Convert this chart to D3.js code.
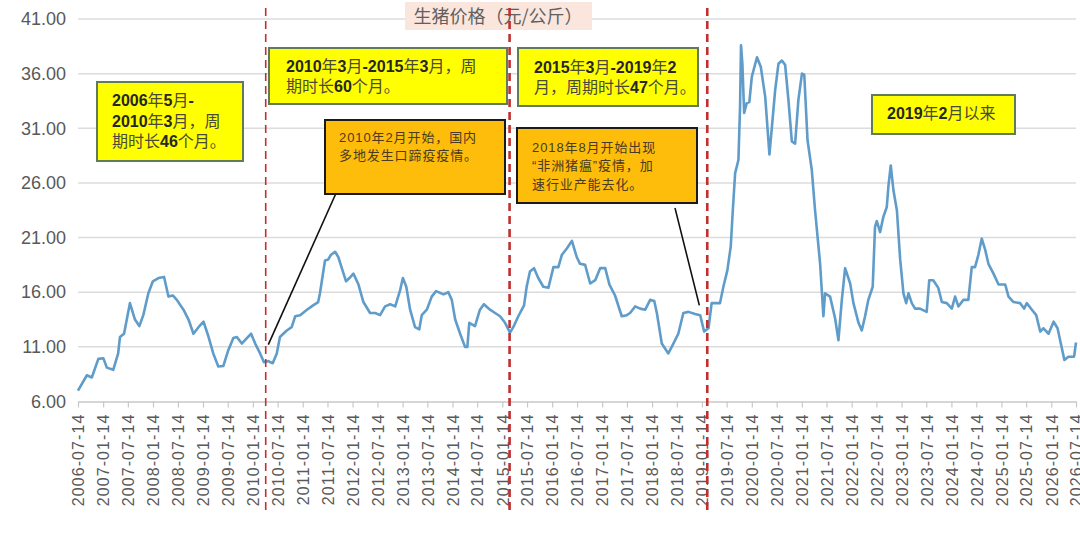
<!DOCTYPE html>
<html lang="zh">
<head>
<meta charset="utf-8">
<title>生猪价格（元/公斤）</title>
<script src="https://d3js.org/d3.v7.min.js"></script>
<style>
  body { margin: 0; background: #fff; }
  svg { display: block; }
</style>
</head>
<body>
<div id="chart"></div>
<script>
// weekly-ish pig price readings (元/公斤)
const dates = [
  "2006-07-14","2006-09-17","2006-10-23","2006-12-10","2007-01-16","2007-02-10","2007-03-29","2007-05-04",
  "2007-05-17","2007-06-16","2007-07-29","2007-09-04","2007-10-06","2007-11-04","2007-12-11","2008-01-13",
  "2008-02-23","2008-04-04","2008-05-06","2008-06-07","2008-07-06","2008-08-24","2008-09-30","2008-11-05",
  "2008-12-12","2009-01-18","2009-02-24","2009-03-30","2009-05-06","2009-06-12","2009-07-18","2009-08-24",
  "2009-09-19","2009-10-25","2009-12-01","2010-01-01","2010-01-31","2010-03-08","2010-04-05","2010-05-07",
  "2010-06-08","2010-07-08","2010-07-31","2010-09-19","2010-10-25","2010-11-20","2010-12-26","2011-02-14",
  "2011-03-31","2011-05-07","2011-05-20","2011-06-26","2011-07-20","2011-08-07","2011-09-08","2011-10-02",
  "2011-10-27","2011-11-27","2011-12-22","2012-01-20","2012-02-26","2012-04-02","2012-05-21","2012-06-27",
  "2012-08-02","2012-09-08","2012-10-15","2012-11-21","2012-12-27","2013-01-16","2013-02-10","2013-03-10",
  "2013-04-15","2013-05-16","2013-06-03","2013-07-10","2013-08-15","2013-09-16","2013-11-09","2013-12-15",
  "2014-01-09","2014-02-03","2014-03-11","2014-04-16","2014-05-03","2014-05-17","2014-06-28","2014-08-03",
  "2014-09-01","2014-10-16","2014-11-22","2014-12-28","2015-02-03","2015-03-11","2015-04-04","2015-05-11",
  "2015-06-22","2015-07-11","2015-08-04","2015-09-03","2015-10-04","2015-11-10","2015-12-17","2016-01-23",
  "2016-02-28","2016-03-24","2016-04-30","2016-06-06","2016-07-12","2016-08-05","2016-09-11","2016-10-18",
  "2016-11-24","2016-12-30","2017-02-05","2017-03-08","2017-04-18","2017-06-06","2017-07-13","2017-08-06",
  "2017-09-12","2017-10-19","2017-11-25","2017-12-31","2018-01-30","2018-02-18","2018-03-26","2018-05-13",
  "2018-06-19","2018-07-25","2018-08-31","2018-10-07","2018-11-25","2019-01-01","2019-01-30","2019-03-03",
  "2019-03-26","2019-05-26","2019-06-20","2019-07-19","2019-08-13","2019-08-28","2019-09-14","2019-10-08",
  "2019-10-20","2019-10-27","2019-11-06","2019-11-19","2019-12-08","2019-12-27","2020-01-14","2020-02-21",
  "2020-03-20","2020-04-21","2020-05-22","2020-06-09","2020-07-03","2020-07-27","2020-08-21","2020-09-14",
  "2020-10-08","2020-11-02","2020-11-26","2020-12-20","2021-01-15","2021-02-01","2021-02-25","2021-03-28",
  "2021-04-21","2021-05-28","2021-06-21","2021-07-03","2021-08-09","2021-09-15","2021-10-09","2021-11-03",
  "2021-11-27","2022-01-03","2022-01-27","2022-03-05","2022-03-29","2022-04-22","2022-05-16","2022-06-17",
  "2022-07-04","2022-07-17","2022-08-10","2022-09-03","2022-09-28","2022-10-10","2022-10-27","2022-11-16",
  "2022-12-11","2023-01-04","2023-01-28","2023-02-17","2023-03-06","2023-03-30","2023-04-23","2023-05-29",
  "2023-07-17","2023-08-05","2023-09-03","2023-10-10","2023-11-05","2023-12-11","2024-01-17","2024-02-10",
  "2024-03-05","2024-04-11","2024-05-17","2024-06-11","2024-07-05","2024-07-29","2024-08-23","2024-09-17",
  "2024-10-11","2024-11-17","2024-12-24","2025-02-11","2025-03-07","2025-04-13","2025-05-31","2025-06-29",
  "2025-07-19","2025-08-25","2025-09-26","2025-10-25","2025-11-18","2025-12-25","2026-01-31","2026-03-01",
  "2026-04-01","2026-04-20","2026-05-19","2026-06-30","2026-07-14"
];
const prices = [
  7.0, 8.4, 8.2, 9.9, 9.95, 9.1, 8.9, 10.4,
  11.9, 12.2, 15.0, 13.5, 12.9, 13.9, 15.9, 17.0,
  17.3, 17.4, 15.6, 15.7, 15.3, 14.4, 13.5, 12.2,
  12.8, 13.3, 11.9, 10.4, 9.2, 9.25, 10.7, 11.8,
  11.9, 11.3, 11.8, 12.2, 11.3, 10.4, 9.6, 9.7,
  9.5, 10.4, 11.9, 12.5, 12.8, 13.8, 13.9, 14.4,
  14.8, 15.1, 15.9, 18.9, 19.0, 19.4, 19.7, 19.2,
  18.2, 17.0, 17.3, 17.7, 16.7, 15.1, 14.1, 14.1,
  13.9, 14.7, 14.9, 14.7, 16.2, 17.3, 16.5, 14.4,
  12.8, 12.6, 13.9, 14.4, 15.6, 16.1, 15.8, 16.0,
  15.3, 13.5, 12.2, 11.0, 11.0, 13.2, 12.9, 14.4,
  14.9, 14.4, 14.1, 13.8, 13.2, 12.3, 12.8, 13.8,
  14.8, 16.5, 17.9, 18.2, 17.3, 16.5, 16.4, 18.3,
  18.3, 19.4, 20.0, 20.7, 19.2, 18.6, 18.5, 16.8,
  17.1, 18.2, 18.2, 16.7, 15.7, 13.8, 13.9, 14.1,
  14.7, 14.5, 14.4, 15.3, 15.2, 14.1, 11.3, 10.4,
  11.3, 12.2, 14.1, 14.2, 14.0, 13.9, 12.4, 12.7,
  15.0, 15.0, 16.5, 18.0, 20.2, 23.5, 26.9, 28.1,
  33.0, 38.6, 36.9, 32.4, 33.3, 33.4, 35.7, 37.5,
  36.6, 33.9, 28.6, 31.1, 34.5, 36.9, 37.2, 36.8,
  33.6, 29.8, 29.6, 33.6, 36.0, 35.9, 29.9, 27.2,
  23.5, 18.6, 13.8, 15.9, 15.6, 13.6, 11.6, 15.3,
  18.2, 16.8, 15.0, 13.2, 12.5, 13.8, 15.3, 16.5,
  22.0, 22.5, 21.5, 22.9, 23.8, 25.7, 27.6, 25.3,
  23.5, 19.0, 15.9, 15.0, 15.9, 15.0, 14.5, 14.5,
  14.2, 17.1, 17.1, 16.4, 15.1, 15.0, 14.5, 15.6,
  14.7, 15.3, 15.3, 18.3, 18.3, 19.4, 20.9, 19.9,
  18.6, 17.7, 16.7, 16.7, 15.6, 15.1, 15.0, 14.5,
  15.0, 14.4, 13.9, 12.4, 12.7, 12.2, 13.3, 12.7,
  10.9, 9.8, 10.1, 10.1, 11.4
];
const xTicks = [
  "2006-07-14","2007-01-14","2007-07-14","2008-01-14","2008-07-14","2009-01-14","2009-07-14",
  "2010-01-14","2010-07-14","2011-01-14","2011-07-14","2012-01-14","2012-07-14","2013-01-14",
  "2013-07-14","2014-01-14","2014-07-14","2015-01-14","2015-07-14","2016-01-14","2016-07-14",
  "2017-01-14","2017-07-14","2018-01-14","2018-07-14","2019-01-14","2019-07-14","2020-01-14",
  "2020-07-14","2021-01-14","2021-07-14","2022-01-14","2022-07-14","2023-01-14","2023-07-14",
  "2024-01-14","2024-07-14","2025-01-14","2025-07-14","2026-01-14","2026-07-14"
];
const yTicks = [6, 11, 16, 21, 26, 31, 36, 41];
const cycleBreaks = ["2010-04-18", "2015-03-08", "2019-02-22"];
const titleText = "生猪价格（元/公斤）";
const cycleNotes = [
  ["2006年5月-", "2010年3月，周", "期时长46个月。"],
  ["2010年3月-2015年3月，周", "期时长60个月。"],
  ["2015年3月-2019年2", "月，周期时长47个月。"],
  ["2019年2月以来"]
];
const eventNotes = [
  ["2010年2月开始，国内", "多地发生口蹄疫疫情。"],
  ["2018年8月开始出现", "“非洲猪瘟”疫情，加", "速行业产能去化。"]
];
// where the event callouts point to on the price line
const eventTargets = [["2010-05-07", 11.2], ["2018-12-26", 14.8]];

const width = 1080, height = 534;
const parse = d3.timeParse("%Y-%m-%d");
const series = dates.map((d, i) => ({ date: parse(d), value: prices[i] }));

const svg = d3.select("#chart").append("svg")
  .attr("width", width)
  .attr("height", height);

const x = d3.scaleTime()
  .domain([parse(xTicks[0]), parse(xTicks[xTicks.length - 1])])
  .range([78, 1076]);
const y = d3.scaleLinear()
  .domain([6, 41])
  .range([401.5, 19]);

const numFont = "'Liberation Sans', Arial, 'Noto Sans CJK SC', sans-serif";
const cjkFont = "'Noto Sans CJK SC', 'Liberation Sans', sans-serif";

// gridlines
svg.append("g")
  .selectAll("line")
  .data(yTicks.slice(1))
  .join("line")
  .attr("x1", 78).attr("x2", 1076)
  .attr("y1", d => y(d)).attr("y2", d => y(d))
  .attr("stroke", "#dcdcdc")
  .attr("stroke-width", 1.5);

// y axis labels
const yAxis = svg.append("g")
  .attr("transform", "translate(78,0)")
  .call(d3.axisLeft(y).tickValues(yTicks).tickFormat(d3.format(".2f")).tickSize(0).tickPadding(12));
yAxis.select(".domain").remove();
yAxis.selectAll("text")
  .attr("fill", "#595959")
  .style("font-family", numFont)
  .style("font-size", "18px");

// x axis
const xAxis = svg.append("g")
  .attr("transform", `translate(0,${y(6)})`)
  .call(d3.axisBottom(x).tickValues(xTicks.map(parse)).tickFormat(d3.timeFormat("%Y-%m-%d")).tickSize(6).tickSizeOuter(0));
xAxis.select(".domain").attr("stroke", "#c8c8c8").attr("stroke-width", 1.5);
xAxis.selectAll(".tick line").attr("stroke", "#c8c8c8").attr("stroke-width", 1.2);
xAxis.selectAll("text")
  .attr("fill", "#595959")
  .attr("transform", "rotate(-90)")
  .attr("x", -12)
  .attr("y", 0)
  .attr("dy", "0.36em")
  .style("text-anchor", "end")
  .style("font-family", numFont)
  .style("font-size", "16px")
  .style("letter-spacing", "1.1px");

// price line
const line = d3.line()
  .x(d => x(d.date))
  .y(d => y(d.value));
svg.append("path")
  .datum(series)
  .attr("fill", "none")
  .attr("stroke", "#5f9cca")
  .attr("stroke-width", 2.6)
  .attr("stroke-linejoin", "round")
  .attr("d", line);

// title box
const tg = svg.append("g");
tg.append("rect")
  .attr("x", 405).attr("y", 2).attr("width", 187).attr("height", 28)
  .attr("fill", "#fae6dd");
tg.append("text")
  .attr("x", 498).attr("y", 23)
  .attr("text-anchor", "middle")
  .attr("fill", "#606060")
  .style("font-family", cjkFont)
  .style("font-size", "18px")
  .text(titleText);

// writes lines; digit runs can be bold and darker than the CJK text
function writeLines(g, lines, x0, y0, lh, size, boldDigits, numColor, cjkColor, spacing) {
  lines.forEach((ln, i) => {
    const t = g.append("text")
      .attr("x", x0).attr("y", y0 + i * lh)
      .style("font-family", numFont)
      .style("font-size", size + "px")
      .style("letter-spacing", spacing + "px");
    ln.split(/([0-9\-]+)/).filter(s => s).forEach(s => {
      const isNum = /^[0-9\-]+$/.test(s);
      t.append("tspan")
        .attr("font-weight", boldDigits && isNum ? "bold" : "normal")
        .attr("fill", isNum ? numColor : cjkColor)
        .text(s);
    });
  });
}

const cycleBoxes = [
  { x: 97, y: 82, w: 146, h: 79, tx: 112, ty: 106 },
  { x: 269, y: 48, w: 238, h: 56, tx: 286, ty: 71.5 },
  { x: 518, y: 48, w: 180, h: 58, tx: 534, ty: 72.5 },
  { x: 872, y: 95, w: 143, h: 39, tx: 887, ty: 119 }
];
cycleBoxes.forEach((b, i) => {
  const g = svg.append("g");
  g.append("rect")
    .attr("x", b.x).attr("y", b.y).attr("width", b.w).attr("height", b.h)
    .attr("fill", "#ffff00")
    .attr("stroke", "#627a5c")
    .attr("stroke-width", 2);
  writeLines(g, cycleNotes[i], b.tx, b.ty, 20.5, 16, true, "#262626", "#4a4a3a", 0);
});

const eventBoxes = [
  { x: 325, y: 120, w: 180, h: 74, tx: 339, ty: 141.5, ax: 337, ay: 191 },
  { x: 517, y: 128, w: 180, h: 75, tx: 532, ty: 151.5, ax: 675, ay: 208 }
];
eventBoxes.forEach((b, i) => {
  const g = svg.append("g");
  const t = eventTargets[i];
  g.append("line")
    .attr("x1", b.ax).attr("y1", b.ay)
    .attr("x2", x(parse(t[0]))).attr("y2", y(t[1]))
    .attr("stroke", "#111")
    .attr("stroke-width", 1.6);
  g.append("rect")
    .attr("x", b.x).attr("y", b.y).attr("width", b.w).attr("height", b.h)
    .attr("fill", "#fdbd0a")
    .attr("stroke", "#1a1a1a")
    .attr("stroke-width", 2);
  writeLines(g, eventNotes[i], b.tx, b.ty, 18.5, 13, false, "#4a3a22", "#4a3a22", 0.9);
});

// cycle boundaries
svg.append("g")
  .selectAll("line")
  .data(cycleBreaks)
  .join("line")
  .attr("x1", d => x(parse(d))).attr("x2", d => x(parse(d)))
  .attr("y1", 8).attr("y2", 512)
  .attr("stroke", "#c0302e")
  .attr("stroke-width", (d, i) => i === 0 ? 1.6 : 2.6)
  .attr("stroke-dasharray", "8,5");
</script>
</body>
</html>
